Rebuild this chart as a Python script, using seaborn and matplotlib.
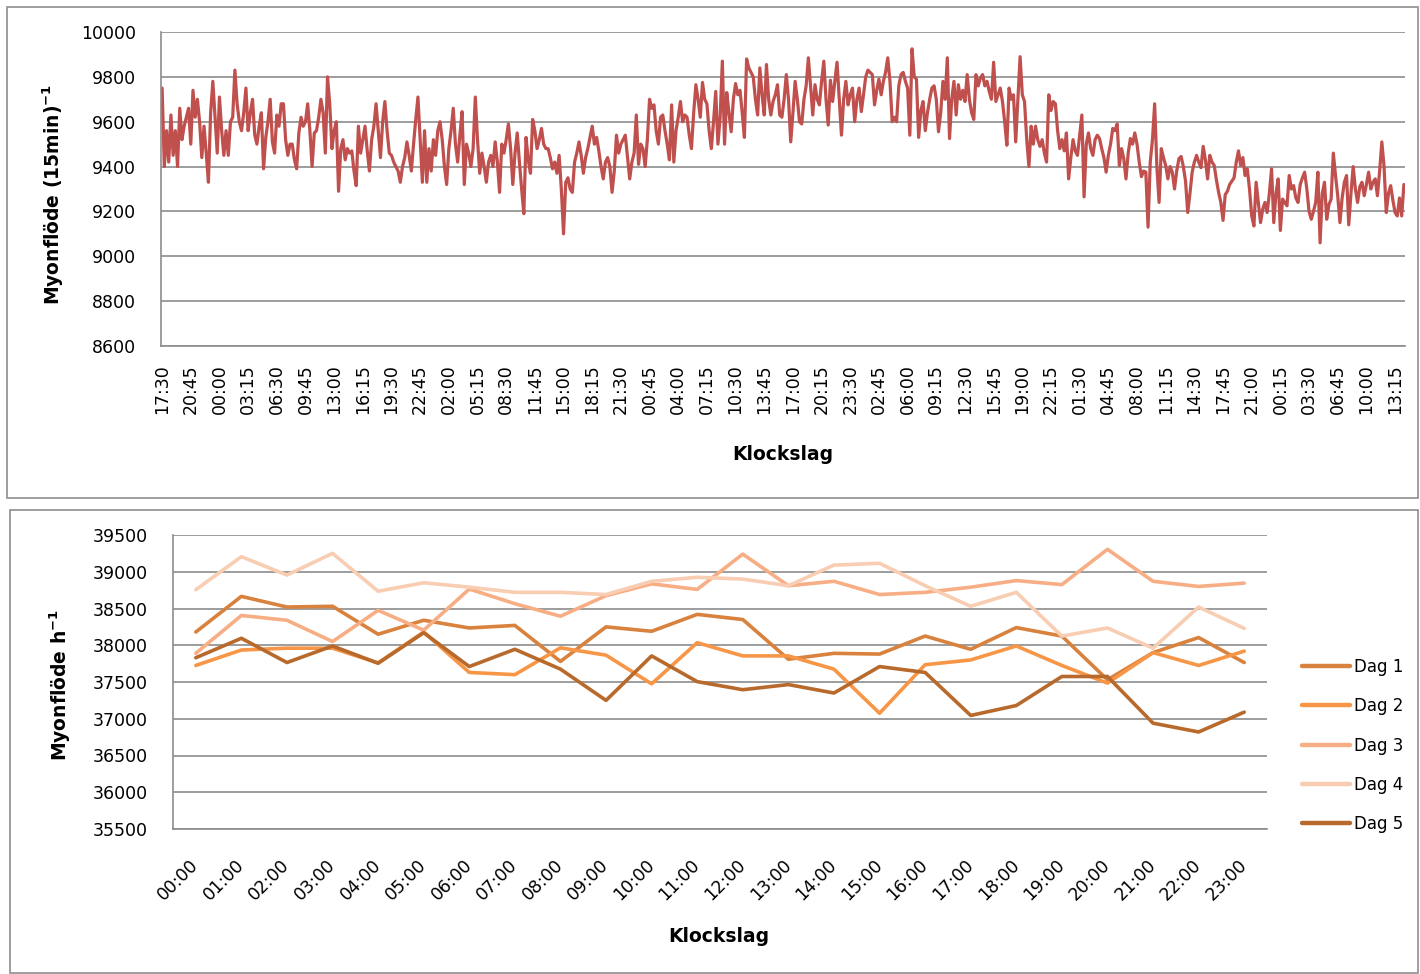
import numpy as np
import pandas as pd
import matplotlib
matplotlib.use("Agg")
import matplotlib.pyplot as plt
import matplotlib.transforms as mtransforms
from matplotlib.patches import Rectangle
from matplotlib.lines import Line2D
import seaborn as sns

W, H = 1420, 974

# Muon counts per 15-minute interval, starting at 17:30
flow_15min = [
    9750, 9400, 9560, 9420, 9630, 9450, 9560, 9400, 9660, 9520,
    9580, 9620, 9660, 9500, 9740, 9620, 9700, 9600, 9440, 9580,
    9460, 9330, 9640, 9780, 9620, 9460, 9710, 9560, 9450, 9560,
    9450, 9600, 9620, 9830, 9680, 9600, 9560, 9640, 9750, 9560,
    9640, 9700, 9540, 9500, 9580, 9640, 9390, 9530, 9600, 9700,
    9510, 9460, 9630, 9580, 9680, 9680, 9520, 9450, 9500,
    9500, 9430, 9390, 9550, 9620, 9580, 9600, 9680, 9560, 9400, 9550,
    9560, 9620, 9700, 9640, 9460, 9800, 9680, 9480, 9560, 9600,
    9290, 9480, 9520, 9430, 9480, 9460, 9470, 9380, 9315,
    9580, 9460, 9520, 9580, 9470, 9380, 9520, 9580, 9680, 9560,
    9440, 9600, 9690, 9560, 9460, 9450, 9420, 9400, 9380, 9330,
    9400, 9440, 9510, 9450, 9380, 9500, 9610, 9710, 9520, 9330,
    9560, 9330, 9480, 9380, 9520, 9450, 9560, 9600, 9520, 9400,
    9320, 9480, 9560, 9660, 9500, 9420, 9540, 9645, 9320, 9500, 9460,
    9400, 9480, 9710, 9520, 9370, 9460, 9400, 9330, 9420, 9450,
    9400, 9510, 9420, 9285, 9500, 9460, 9520, 9590, 9480, 9320,
    9460, 9550, 9420, 9300, 9190, 9530, 9430, 9370, 9610, 9560,
    9480, 9520, 9570, 9500, 9480, 9480, 9440, 9390, 9420,
    9370, 9450, 9300, 9100, 9330, 9350, 9300, 9285, 9420, 9460,
    9510, 9450, 9370, 9440, 9480, 9530, 9580, 9500, 9530, 9470,
    9400, 9345, 9420, 9440, 9400, 9285, 9380, 9540, 9460, 9500, 9520, 9540,
    9440, 9345, 9420, 9460, 9630, 9410, 9500, 9480, 9400, 9520,
    9700, 9660, 9675, 9560, 9500, 9620, 9630, 9560, 9500,
    9430, 9675, 9420, 9560, 9620, 9690, 9600, 9630, 9620, 9540,
    9480, 9640, 9765, 9700, 9620, 9775, 9700, 9680, 9560, 9480,
    9600, 9735, 9500, 9620, 9870, 9500, 9730, 9640, 9555, 9700,
    9770, 9720, 9740, 9640, 9530, 9880, 9840, 9820, 9800, 9700,
    9630, 9840, 9720, 9630, 9855, 9700, 9630, 9690, 9720, 9765, 9630,
    9620, 9700, 9810, 9700, 9510, 9640, 9780, 9700, 9600, 9590,
    9700, 9760, 9885, 9760, 9630, 9765, 9700, 9675, 9780, 9870,
    9700, 9585, 9785, 9690, 9780, 9865, 9700, 9540, 9700, 9780,
    9675, 9720, 9750, 9600, 9700, 9750, 9645, 9720, 9800, 9830,
    9820, 9810, 9675, 9740, 9790, 9720, 9780, 9820, 9885,
    9780, 9600, 9620, 9600, 9760, 9810, 9820, 9780, 9750, 9540,
    9925, 9800, 9790, 9530, 9650, 9690, 9560, 9640, 9700, 9750, 9760,
    9700, 9555, 9640, 9780, 9700, 9885, 9525, 9700, 9780, 9630,
    9765, 9700, 9740, 9690, 9810, 9700, 9640, 9610, 9810, 9760,
    9795, 9810, 9760, 9780, 9735, 9700, 9865, 9690, 9720,
    9750, 9690, 9600, 9495, 9750, 9700, 9720, 9510, 9700, 9890,
    9720, 9690, 9520, 9400, 9580, 9500, 9580, 9520, 9490, 9520,
    9460, 9420, 9720, 9650, 9690, 9680, 9560, 9480, 9520, 9470,
    9550, 9345, 9440, 9520, 9470, 9450, 9540, 9630, 9265, 9500, 9550, 9480,
    9450, 9520, 9540, 9525, 9480, 9440, 9375, 9450, 9500, 9570,
    9560, 9590, 9405, 9480, 9435, 9345, 9460, 9525, 9500, 9550,
    9500, 9420, 9355, 9380, 9375, 9130, 9420, 9520, 9680,
    9400, 9240, 9480, 9440, 9405, 9345, 9400, 9375, 9300, 9380,
    9435, 9445, 9400, 9335, 9195, 9280, 9375, 9420, 9450, 9420,
    9395, 9490, 9430, 9345, 9450, 9420, 9405, 9340, 9285, 9240,
    9160, 9275, 9290, 9320, 9335, 9350, 9420, 9470, 9405, 9440, 9360,
    9390, 9300, 9180, 9135, 9330, 9240, 9150, 9210, 9240, 9195,
    9280, 9390, 9150, 9280, 9345, 9115, 9255, 9240, 9225, 9360,
    9300, 9315, 9260, 9240, 9320, 9350, 9375, 9300, 9200,
    9165, 9200, 9240, 9375, 9060, 9280, 9330, 9165, 9230, 9255,
    9460, 9360, 9270, 9150, 9260, 9330, 9360, 9140, 9280, 9400,
    9300, 9240, 9310, 9330, 9270, 9320, 9375, 9300, 9330, 9345,
    9270, 9380, 9510, 9400, 9195, 9280, 9315, 9250, 9195, 9180, 9260, 9180, 9320,
]

# Every 13th interval carries a time label
time_labels = [
    "17:30", "20:45", "00:00", "03:15", "06:30", "09:45", "13:00", "16:15",
    "19:30", "22:45", "02:00", "05:15", "08:30", "11:45", "15:00", "18:15",
    "21:30", "00:45", "04:00", "07:15", "10:30", "13:45", "17:00", "20:15",
    "23:30", "02:45", "06:00", "09:15", "12:30", "15:45", "19:00", "22:15",
    "01:30", "04:45", "08:00", "11:15", "14:30", "17:45", "21:00", "00:15",
    "03:30", "06:45", "10:00", "13:15",
]
label_step = 13

# Hourly muon counts for each day
hours = ["00:00", "01:00", "02:00", "03:00", "04:00", "05:00", "06:00", "07:00",
         "08:00", "09:00", "10:00", "11:00", "12:00", "13:00", "14:00", "15:00",
         "16:00", "17:00", "18:00", "19:00", "20:00", "21:00", "22:00", "23:00"]
dag1 = [38180, 38665, 38520, 38530, 38150, 38340, 38235, 38270, 37780, 38250,
        38190, 38420, 38350, 37810, 37890, 37880, 38125, 37945, 38240, 38125,
        37530, 37900, 38105, 37765]
dag2 = [37725, 37935, 37960, 37960, 37760, 38180, 37630, 37600, 37965, 37865,
        37475, 38035, 37855, 37855, 37675, 37075, 37735, 37800, 37990, 37725,
        37485, 37900, 37725, 37920]
dag3 = [37890, 38405, 38340, 38050, 38475, 38205, 38765, 38565, 38395, 38675,
        38835, 38760, 39240, 38810, 38870, 38690, 38720, 38790, 38880, 38825,
        39305, 38870, 38800, 38845]
dag4 = [38755, 39205, 38955, 39250, 38735, 38850, 38790, 38720, 38720, 38690,
        38870, 38925, 38900, 38810, 39090, 39115, 38810, 38530, 38720, 38125,
        38235, 37960, 38520, 38230]
dag5 = [37830, 38095, 37765, 37990, 37755, 38170, 37710, 37945, 37675, 37250,
        37855, 37505, 37395, 37465, 37350, 37710, 37630, 37045, 37180, 37575,
        37575, 36940, 36820, 37090]
day_names = ["Dag 1", "Dag 2", "Dag 3", "Dag 4", "Dag 5"]
day_colors = ["#D8823D", "#F79646", "#F7AE84", "#F8CDB2", "#B86A2C"]

LINE_RED = "#C0504D"
GRID = "#8C8C8C"
BORDER = "#8E8E8E"

sns.set_style("white")
plt.rcParams["font.family"] = ["DejaVu Sans"]
plt.rcParams["mathtext.fontset"] = "dejavusans"
plt.rcParams["text.color"] = "black"

fig = plt.figure(figsize=(W / 100, H / 100), dpi=100)


def px_axes(left, top, right, bottom):
    return fig.add_axes([left / W, 1 - bottom / H, (right - left) / W, (bottom - top) / H])


def fx(x):
    return x / W


def fy(y):
    return 1 - y / H


# chart area frames
fig.add_artist(Rectangle((fx(7), fy(498)), (1418 - 7) / W, (498 - 7) / H,
                         transform=fig.transFigure, fill=False, edgecolor=BORDER, lw=1.2))
fig.add_artist(Rectangle((fx(10), fy(973)), (1418 - 10) / W, (973 - 510) / H,
                         transform=fig.transFigure, fill=False, edgecolor=BORDER, lw=1.2))


def style_axes(ax):
    for side in ("top", "right"):
        ax.spines[side].set_visible(False)
    for side in ("left", "bottom"):
        ax.spines[side].set_color(GRID)
        ax.spines[side].set_linewidth(1.2)
    ax.yaxis.grid(True, color=GRID, lw=1.2)
    ax.xaxis.grid(False)
    ax.set_axisbelow(True)
    ax.set_xlabel("")
    ax.set_ylabel("")


# ---- top panel: 15-minute series ----
ax1 = px_axes(161, 32, 1405, 346)
n = len(flow_15min)
top_df = pd.DataFrame({"idx": np.arange(n), "flow": flow_15min})
sns.lineplot(data=top_df, x="idx", y="flow", ax=ax1, color=LINE_RED, linewidth=2.3)
ax1.set_xlim(-0.5, n - 0.5)
ax1.set_ylim(8600, 10000)
ax1.set_yticks(np.arange(8600, 10001, 200))
style_axes(ax1)
ax1.set_xticks(np.arange(0, n, label_step)[:len(time_labels)])
ax1.set_xticklabels(time_labels, rotation=90, fontsize=12.5, va="top", ha="center")
ax1.set_xticks(np.arange(-0.5, n, 5), minor=True)
ax1.tick_params(axis="x", which="major", length=0, pad=13, labelcolor="black")
ax1.tick_params(axis="x", which="minor", length=6, width=1.2, color=GRID, direction="out")
ax1.tick_params(axis="y", length=6, width=1.2, color=GRID, pad=12, labelsize=12.5,
                labelcolor="black")

fig.text(fx(53), fy(194), r"Myonflöde (15min)$^{\mathbf{-1}}$", rotation=90,
         ha="center", va="center", fontsize=13.5, fontweight="bold")
fig.text(fx(783), fy(455), "Klockslag", ha="center", va="center",
         fontsize=13.5, fontweight="bold")

# ---- bottom panel: hourly series per day ----
ax2 = px_axes(173, 535, 1267, 829)
rows = []
for name, vals in zip(day_names, [dag1, dag2, dag3, dag4, dag5]):
    for k, v in enumerate(vals):
        rows.append({"pos": k, "hour": hours[k], "Dag": name, "count": v})
day_df = pd.DataFrame(rows)
sns.lineplot(data=day_df, x="pos", y="count", hue="Dag", hue_order=day_names,
             palette=dict(zip(day_names, day_colors)), linewidth=2.6, ax=ax2,
             legend=False)
ax2.set_xlim(-0.5, len(hours) - 0.5)
ax2.set_ylim(35500, 39500)
ax2.set_yticks(np.arange(35500, 39501, 500))
style_axes(ax2)
ax2.set_xticks(np.arange(len(hours)))
ax2.set_xticklabels(hours, rotation=45, fontsize=12.5, ha="right", va="center",
                    rotation_mode="anchor")
offset = mtransforms.ScaledTranslation(7 / 100, 0, fig.dpi_scale_trans)
for lab in ax2.get_xticklabels():
    lab.set_transform(lab.get_transform() + offset)
ax2.set_xticks(np.arange(-0.5, len(hours), 1), minor=True)
ax2.tick_params(axis="x", which="major", length=0, pad=24, labelcolor="black")
ax2.tick_params(axis="x", which="minor", length=6, width=1.2, color=GRID, direction="out")
ax2.tick_params(axis="y", length=6, width=1.2, color=GRID, pad=12, labelsize=12.5,
                labelcolor="black")

fig.text(fx(60), fy(685), r"Myonflöde h$^{\mathbf{-1}}$", rotation=90,
         ha="center", va="center", fontsize=13.5, fontweight="bold")
fig.text(fx(719), fy(937), "Klockslag", ha="center", va="center",
         fontsize=13.5, fontweight="bold")

handles = [Line2D([0], [0], color=c, lw=3.2) for c in day_colors]
fig.legend(handles, day_names, loc="upper left",
           bbox_to_anchor=(fx(1302), fy(658)), frameon=False, fontsize=12,
           handlelength=2.9, handletextpad=0.25, labelspacing=1.28,
           borderaxespad=0, borderpad=0)

fig.savefig("out.png", dpi=100)
